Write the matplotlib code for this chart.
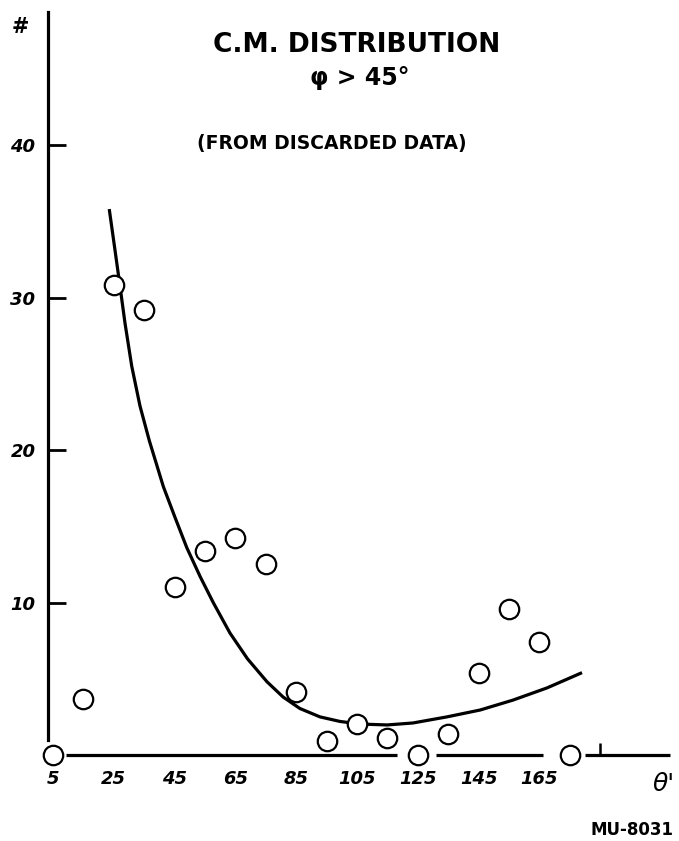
import matplotlib
matplotlib.use("Agg")
import matplotlib.pyplot as plt

# measured points (theta' in degrees, counts)
theta = [5, 15, 25, 35, 45, 55, 65, 75, 85, 95, 105, 115, 125, 135, 145, 155, 165, 175]
counts = [0, 3.7, 30.8, 29.2, 11.0, 13.4, 14.2, 12.5, 4.1, 0.9, 2.0, 1.1, 0.0, 1.4, 5.4, 9.6, 7.4, 0.0]

# hand-drawn fit curve
fit_x = [23.5, 25.4, 27.0, 28.7, 30.9, 33.6, 36.7, 41.3, 45.1, 49.0, 53.4, 57.7, 63.2, 69.0,
         75.4, 80.7, 86.2, 92.8, 99.4, 106.0, 114.9, 123.4, 134.6, 145.5, 156.3, 167.5, 179.0]
fit_y = [35.8, 33.1, 30.8, 28.3, 25.5, 22.9, 20.6, 17.6, 15.6, 13.6, 11.7, 10.0, 8.0, 6.3,
         4.8, 3.8, 3.05, 2.5, 2.2, 2.03, 1.97, 2.1, 2.5, 2.95, 3.6, 4.4, 5.4]

x_labels = [5, 25, 45, 65, 85, 105, 125, 145, 165]
x_marks = [25, 45, 65, 85, 105, 145, 165, 185]
y_ticks = [10, 20, 30, 40]

# pieces of the (broken) horizontal axis
axis_starts = [9.3, 131.0, 180.0]
axis_ends = [118.2, 166.2, 207.9]

fig = plt.figure(figsize=(6.79, 8.41), dpi=100)
ax = fig.add_axes([48 / 679, 0, 1 - 48 / 679, 1])
ax.set_xlim(3.36, 210.9)
ax.set_ylim(-5.64, 49.51)

for side in ["top", "right"]:
    ax.spines[side].set_visible(False)
ax.spines["left"].set_linewidth(2.3)
ax.spines["left"].set_bounds(1.0, 48.7)
ax.spines["bottom"].set_position(("data", 0))
ax.spines["bottom"].set_visible(False)

ax.hlines([0] * len(axis_starts), axis_starts, axis_ends, color="black", lw=2.3)

num_font = dict(fontsize=13, fontweight="bold", fontstyle="italic")
ax.set_yticks(y_ticks)
ax.set_yticklabels([str(v) for v in y_ticks], **num_font)
ax.tick_params(axis="y", direction="in", length=13, width=2, pad=9)

ax.set_xticks(x_labels)
ax.set_xticklabels([str(v) for v in x_labels], **num_font)
ax.set_xticks(x_marks, minor=True)
ax.tick_params(axis="x", which="major", length=0, pad=11)
ax.tick_params(axis="x", which="minor", direction="in", length=9, width=1.8)

ax.plot(fit_x, fit_y, color="black", lw=2.3, solid_capstyle="butt",
        solid_joinstyle="round", zorder=2)
ax.plot(theta, counts, "o", ms=14, mfc="white", mec="black", mew=1.6,
        clip_on=False, zorder=3)

fig.text(20 / 679, 1 - 27 / 841, "#", fontsize=15, fontweight="bold", ha="center", va="center")
fig.text(664 / 679, 1 - 784 / 841, "θ'", fontsize=18, fontstyle="italic",
         ha="center", va="center")

fig.text(357 / 679, 1 - 45 / 841, "C.M. DISTRIBUTION", fontsize=19, fontweight="bold",
         ha="center", va="center")
fig.text(360 / 679, 1 - 78 / 841, "φ > 45°", fontsize=17, fontweight="bold",
         ha="center", va="center")
fig.text(332 / 679, 1 - 143 / 841, "(FROM DISCARDED DATA)", fontsize=13.5, fontweight="bold",
         ha="center", va="center")
fig.text(632 / 679, 1 - 830 / 841, "MU-8031", fontsize=12, fontweight="bold",
         ha="center", va="center")

fig.savefig("out.png", dpi=100)
